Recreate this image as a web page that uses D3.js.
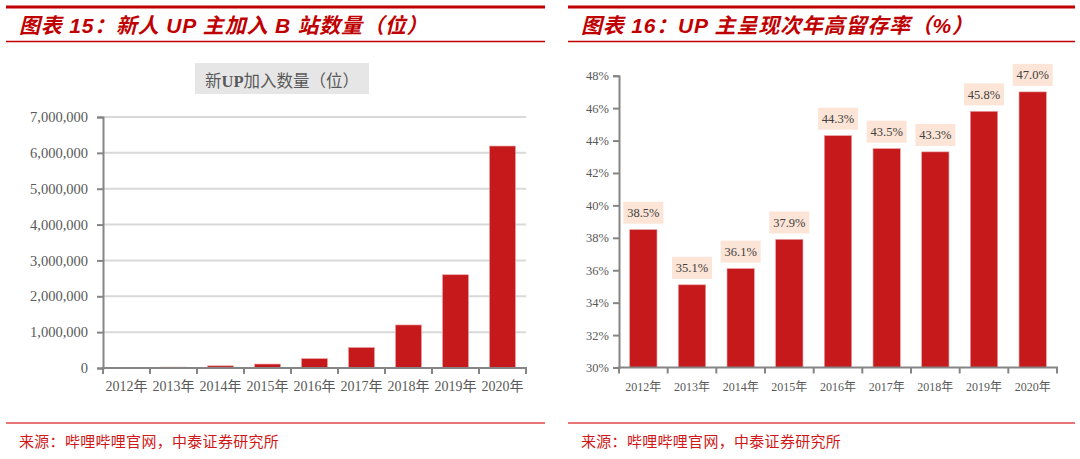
<!DOCTYPE html>
<html>
<head>
<meta charset="utf-8">
<script src="https://cdn.jsdelivr.net/npm/d3@7.9.0/dist/d3.min.js"></script>
<style>
  body { margin: 0; background: #fff; }
  svg { display: block; }
</style>
</head>
<body>
<svg id="chart" width="1080" height="459"></svg>
<script>
// data
const years = ['2012年', '2013年', '2014年', '2015年', '2016年', '2017年', '2018年', '2019年', '2020年'];
const newUp = [5000, 25000, 60000, 110000, 260000, 570000, 1200000, 2600000, 6190000];
const retention = [38.5, 35.1, 36.1, 37.9, 44.3, 43.5, 43.3, 45.8, 47.0];
const upTicks = [0, 1000000, 2000000, 3000000, 4000000, 5000000, 6000000, 7000000];
const pctTicks = [30, 32, 34, 36, 38, 40, 42, 44, 46, 48];

const titles = ['图表 15：新人 UP 主加入 B 站数量（位）', '图表 16：UP 主呈现次年高留存率（%）'];
const source = '来源：哔哩哔哩官网，中泰证券研究所';

const red = '#c00000';
const barColor = '#c5191b';
const axisColor = '#858585';
const textColor = '#595959';
const serif = '"Liberation Serif", "Noto Sans CJK SC", serif';
const sans = '"Liberation Sans", "Noto Sans CJK SC", sans-serif';

const svg = d3.select('#chart');

// panel frames: title, rules, source
const panels = [{ x0: 6, x1: 545, tx: 19 }, { x0: 568, x1: 1075, tx: 581 }];
panels.forEach((p, i) => {
  svg.append('line').attr('x1', p.x0).attr('x2', p.x1).attr('y1', 7).attr('y2', 7)
    .attr('stroke', red).attr('stroke-width', 3);
  svg.append('line').attr('x1', p.x0).attr('x2', p.x1).attr('y1', 41.5).attr('y2', 41.5)
    .attr('stroke', red).attr('stroke-width', 1.5);
  svg.append('text').attr('x', p.tx).attr('y', 33)
    .attr('font-family', sans).attr('font-size', 21).attr('font-weight', 'bold')
    .attr('font-style', 'italic').attr('letter-spacing', 0.8).attr('fill', red).text(titles[i]);
  svg.append('line').attr('x1', p.x0).attr('x2', p.x1).attr('y1', 423).attr('y2', 423)
    .attr('stroke', '#e04848').attr('stroke-width', 1.5);
  svg.append('text').attr('x', p.tx).attr('y', 447)
    .attr('font-family', sans).attr('font-size', 15).attr('letter-spacing', 0.3)
    .attr('fill', '#d01818').text(source);
});

// boundary ticks under a band axis
function bandTicks(g, x, y0) {
  let edges = x.domain().map(d => x(d));
  edges.push(x.range()[1]);
  g.selectAll('line.bt').data(edges).enter().append('line')
    .attr('class', 'bt')
    .attr('x1', d => d).attr('x2', d => d)
    .attr('y1', y0).attr('y2', y0 + 6)
    .attr('stroke', axisColor).attr('stroke-width', 2);
}

// ---------- left chart: new UP count ----------
{
  const x = d3.scaleBand().domain(years).range([103, 526]).paddingInner(0.45).paddingOuter(0.225);
  const xb = d3.scaleBand().domain(years).range([103, 526]);
  const y = d3.scaleLinear().domain([0, 7000000]).range([368, 117]);
  const g = svg.append('g');

  // chart title box
  g.append('rect').attr('x', 195).attr('y', 63).attr('width', 174).attr('height', 31).attr('fill', '#e6e6e6');
  const t = g.append('text').attr('x', 282).attr('y', 87).attr('text-anchor', 'middle')
    .attr('font-family', serif).attr('font-size', 16.5).attr('fill', textColor);
  t.append('tspan').text('新');
  t.append('tspan').attr('font-weight', 'bold').text('UP');
  t.append('tspan').text('加入数量（位）');

  // grid
  g.selectAll('line.grid').data(upTicks.filter(d => d > 0)).enter().append('line')
    .attr('class', 'grid')
    .attr('x1', 103).attr('x2', 526)
    .attr('y1', d => y(d)).attr('y2', d => y(d))
    .attr('stroke', '#d9d9d9').attr('stroke-width', 2);

  // bars
  g.selectAll('rect.bar').data(newUp).enter().append('rect')
    .attr('class', 'bar')
    .attr('x', (d, i) => x(years[i]))
    .attr('width', x.bandwidth())
    .attr('y', d => y(d))
    .attr('height', d => y(0) - y(d))
    .attr('fill', barColor)
    .attr('stroke', '#e89a9a').attr('stroke-width', 0.6);

  // y axis
  const ya = g.append('g').attr('transform', 'translate(103,0)')
    .call(d3.axisLeft(y).tickValues(upTicks).tickSize(6).tickPadding(9).tickFormat(d3.format(',')));
  ya.select('.domain').attr('stroke', axisColor).attr('stroke-width', 2);
  ya.selectAll('.tick line').attr('stroke', axisColor).attr('stroke-width', 2);
  ya.selectAll('.tick text').attr('font-family', serif).attr('font-size', 14.5).attr('fill', textColor);

  // x axis
  g.append('line').attr('x1', 102).attr('x2', 527).attr('y1', y(0)).attr('y2', y(0))
    .attr('stroke', axisColor).attr('stroke-width', 2);
  bandTicks(g, xb, y(0));
  g.selectAll('text.xl').data(years).enter().append('text')
    .attr('class', 'xl')
    .attr('x', d => xb(d) + xb.bandwidth() / 2).attr('y', 391)
    .attr('text-anchor', 'middle')
    .attr('font-family', serif).attr('font-size', 14).attr('fill', textColor)
    .text(d => d);
}

// ---------- right chart: retention ----------
{
  const x = d3.scaleBand().domain(years).range([619, 1057]).paddingInner(0.44).paddingOuter(0.22);
  const xb = d3.scaleBand().domain(years).range([619, 1057]);
  const y = d3.scaleLinear().domain([30, 48]).range([367.5, 75.7]);
  const g = svg.append('g');

  g.selectAll('rect.bar').data(retention).enter().append('rect')
    .attr('class', 'bar')
    .attr('x', (d, i) => x(years[i]))
    .attr('width', x.bandwidth())
    .attr('y', d => y(d))
    .attr('height', d => y(30) - y(d))
    .attr('fill', barColor)
    .attr('stroke', '#e89a9a').attr('stroke-width', 0.6);

  // value labels in peach boxes
  const lab = g.selectAll('g.lab').data(retention).enter().append('g')
    .attr('class', 'lab')
    .attr('transform', (d, i) => `translate(${x(years[i]) + x.bandwidth() / 2},${y(d) - 6})`);
  lab.append('rect').attr('x', -20).attr('y', -22).attr('width', 40).attr('height', 22).attr('fill', '#fce4d6');
  lab.append('text').attr('y', -6.5).attr('text-anchor', 'middle')
    .attr('font-family', serif).attr('font-size', 12.5).attr('fill', '#404040')
    .text(d => d.toFixed(1) + '%');

  const ya = g.append('g').attr('transform', 'translate(619,0)')
    .call(d3.axisLeft(y).tickValues(pctTicks).tickSize(6).tickPadding(4).tickFormat(d => d + '%'));
  ya.select('.domain').attr('stroke', axisColor).attr('stroke-width', 2);
  ya.selectAll('.tick line').attr('stroke', axisColor).attr('stroke-width', 2);
  ya.selectAll('.tick text').attr('font-family', serif).attr('font-size', 12.5).attr('fill', textColor);

  g.append('line').attr('x1', 618).attr('x2', 1058).attr('y1', y(30)).attr('y2', y(30))
    .attr('stroke', axisColor).attr('stroke-width', 2);
  bandTicks(g, xb, y(30));
  g.selectAll('text.xl').data(years).enter().append('text')
    .attr('class', 'xl')
    .attr('x', d => xb(d) + xb.bandwidth() / 2).attr('y', 391)
    .attr('text-anchor', 'middle')
    .attr('font-family', serif).attr('font-size', 12).attr('fill', textColor)
    .text(d => d);
}
</script>
</body>
</html>
